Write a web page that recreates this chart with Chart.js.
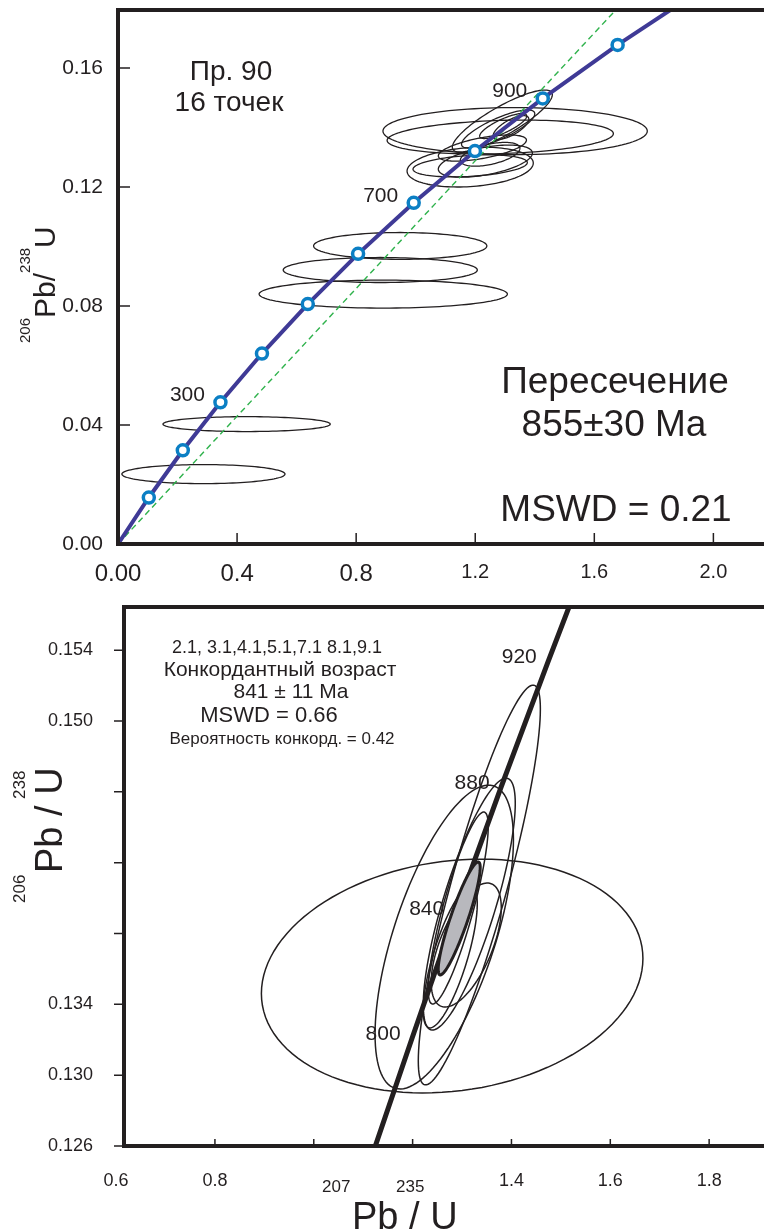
<!DOCTYPE html>
<html>
<head>
<meta charset="utf-8">
<script src="https://cdn.jsdelivr.net/npm/chart.js@4.4.1/dist/chart.umd.min.js"></script>
<style>
    body { margin: 0; background: #fff; }
    #wrap { position: relative; width: 764px; height: 1232px; overflow: hidden; }
    canvas { position: absolute; left: 0; }
    #topChart { top: 0; }
    #bottomChart { top: 600px; }
</style>
</head>
<body>
<div id="wrap">
    <canvas id="topChart" width="764" height="600"></canvas>
    <canvas id="bottomChart" width="764" height="632"></canvas>
</div>
<script>
const FONT = '"Liberation Sans", Arial, Helvetica, sans-serif';
const INK = '#231f20';

// ---------- upper diagram: discordia, 16 points ----------
const topXTicks = [0, 0.4, 0.8, 1.2, 1.6, 2.0];
const topXLabels = ['0.00', '0.4', '0.8', '1.2', '1.6', '2.0'];
const topYTicks = [0, 0.04, 0.08, 0.12, 0.16];
const topYLabels = ['0.00', '0.04', '0.08', '0.12', '0.16'];

// concordia marks, 100 Ma steps
const topMarkAges = [100, 200, 300, 400, 500, 600, 700, 800, 900, 1000];
const topMarkX = [0.1035, 0.2177, 0.3441, 0.4836, 0.6375, 0.8065, 0.9933, 1.1990, 1.4268, 1.6783];
const topMarkY = [0.01563, 0.03151, 0.04764, 0.06402, 0.08065, 0.09754, 0.11468, 0.13210, 0.14979, 0.16776];
const topCurveX = [0, 0.1035, 0.2177, 0.3441, 0.4836, 0.6375, 0.8065, 0.9933, 1.1990, 1.4268, 1.6783, 1.9546];
const topCurveY = [0, 0.01563, 0.03151, 0.04764, 0.06402, 0.08065, 0.09754, 0.11468, 0.13210, 0.14979, 0.16776, 0.18605];
const topLabelAges = [300, 700, 900];

// discordia chord through the origin
const chordX = [0, 1.70];
const chordY = [0, 0.1825];

// error ellipses: centre, half extents, correlation
const topEllX = [0.287, 0.432, 0.891, 0.881, 0.948, 1.334, 1.284, 1.183, 1.183, 1.234, 1.224, 1.291, 1.277, 1.294, 1.320, 1.250];
const topEllY = [0.0235, 0.0403, 0.0840, 0.0921, 0.1002, 0.1388, 0.1368, 0.1267, 0.1271, 0.1287, 0.1331, 0.1422, 0.1395, 0.1405, 0.1400, 0.1310];
const topEllW = [0.274, 0.281, 0.417, 0.326, 0.291, 0.444, 0.380, 0.212, 0.192, 0.158, 0.148, 0.168, 0.123, 0.079, 0.060, 0.100];
const topEllH = [0.0032, 0.0025, 0.0047, 0.0042, 0.0045, 0.0079, 0.0057, 0.0067, 0.0037, 0.0054, 0.0044, 0.0104, 0.0064, 0.0042, 0.0040, 0.0040];
const topEllR = [0, 0, 0, 0, 0, 0, 0.2, 0.2, 0.3, 0.5, 0.6, 0.85, 0.8, 0.8, 0.7, 0.5];

// ---------- lower diagram: concordant age ----------
const botXTicks = [0.6, 0.8, 1.0, 1.2, 1.4, 1.6, 1.8];
const botXLabels = ['0.6', '0.8', '', '', '1.4', '1.6', '1.8'];
const botYTicks = [0.126, 0.130, 0.134, 0.138, 0.142, 0.146, 0.150, 0.154];
const botYLabels = ['0.126', '0.130', '0.134', '', '', '', '0.150', '0.154'];

const botCurveX = [1.1138, 1.1990, 1.2871, 1.3790, 1.4745, 1.5238];
const botCurveY = [0.12512, 0.13210, 0.13918, 0.14627, 0.15339, 0.15697];
const botLabelAges = ['800', '840', '880', '920'];
const botAgeX = [1.1990, 1.2871, 1.3790, 1.4745];
const botAgeY = [0.13210, 0.13918, 0.14627, 0.15339];

const botEllX = [1.280, 1.264, 1.335, 1.3146, 1.2923, 1.3085, 1.2761];
const botEllY = [0.1356, 0.1378, 0.14074, 0.13966, 0.13944, 0.13735, 0.13667];
const botEllW = [0.386, 0.140, 0.1235, 0.0931, 0.0607, 0.0709, 0.0547];
const botEllH = [0.0066, 0.00858, 0.01129, 0.00711, 0.00542, 0.0035, 0.0040];
const botEllR = [0.15, 0.64, 0.88, 0.8, 0.85, 0.6, 0.75];

// weighted concordia ellipse (grey)
const concX = [1.2943];
const concY = [0.13885];
const concW = [0.0425];
const concH = [0.00319];
const concR = [0.9];

const pts = (xs, ys) => xs.map((v, i) => ({ x: v, y: ys[i] }));

function ellipses(id, hook, xs, ys, ws, hs, rs, style) {
    return {
        id: id,
        [hook](chart) {
            const { ctx, chartArea: a, scales: { x, y } } = chart;
            ctx.save();
            ctx.beginPath();
            ctx.rect(a.left, a.top, a.right - a.left, a.bottom - a.top);
            ctx.clip();
            for (let i = 0; i < xs.length; i++) {
                const q = Math.sqrt(1 - rs[i] * rs[i]);
                ctx.beginPath();
                for (let k = 0; k <= 120; k++) {
                    const t = k / 120 * Math.PI * 2;
                    const px = x.getPixelForValue(xs[i] + ws[i] * Math.cos(t));
                    const py = y.getPixelForValue(ys[i] + hs[i] * (rs[i] * Math.cos(t) + q * Math.sin(t)));
                    if (k === 0) ctx.moveTo(px, py); else ctx.lineTo(px, py);
                }
                ctx.closePath();
                if (style.fill) { ctx.fillStyle = style.fill; ctx.fill(); }
                ctx.lineWidth = style.width;
                ctx.strokeStyle = INK;
                ctx.stroke();
            }
            ctx.restore();
        }
    };
}

function frame(cfg) {
    return {
        id: 'frame',
        afterDraw(chart) {
            const { ctx, chartArea: a, scales: { x, y } } = chart;
            ctx.save();
            ctx.strokeStyle = INK;
            ctx.lineWidth = 1.5;
            ctx.beginPath();
            x.ticks.forEach(t => {
                if (t.value <= x.min || t.value > x.max) return;
                const px = x.getPixelForValue(t.value);
                ctx.moveTo(px, a.bottom);
                ctx.lineTo(px, a.bottom - cfg.xTick);
            });
            y.ticks.forEach(t => {
                if (t.value < y.min || t.value > y.max) return;
                const py = y.getPixelForValue(t.value);
                ctx.moveTo(a.left, py);
                ctx.lineTo(a.left + cfg.yTick, py);
            });
            ctx.stroke();
            ctx.lineWidth = 4;
            ctx.lineJoin = 'miter';
            ctx.beginPath();
            ctx.moveTo(chart.width + 5, a.top);
            ctx.lineTo(a.left, a.top);
            ctx.lineTo(a.left, a.bottom);
            ctx.lineTo(chart.width + 5, a.bottom);
            ctx.stroke();
            ctx.restore();
        }
    };
}

function notes(items) {
    return {
        id: 'notes',
        afterDraw(chart) {
            const ctx = chart.ctx;
            ctx.save();
            ctx.fillStyle = INK;
            ctx.textBaseline = 'alphabetic';
            ctx.textAlign = 'center';
            items.forEach(n => {
                ctx.font = n.size + 'px ' + FONT;
                ctx.fillText(n.t, n.x, n.y);
            });
            ctx.restore();
        }
    };
}

function ageLabels(texts, xs, ys, dx, dy, size) {
    return {
        id: 'ageLabels',
        afterDraw(chart) {
            const { ctx, scales: { x, y } } = chart;
            ctx.save();
            ctx.fillStyle = INK;
            ctx.textAlign = 'center';
            ctx.textBaseline = 'alphabetic';
            ctx.font = size + 'px ' + FONT;
            texts.forEach((t, i) => {
                ctx.fillText(t, x.getPixelForValue(xs[i]) + dx, y.getPixelForValue(ys[i]) + dy);
            });
            ctx.restore();
        }
    };
}

// isotope ratio title: big text plus raised mass numbers
function ratioTitle(cfg) {
    return {
        id: 'ratioTitle',
        afterDraw(chart) {
            const ctx = chart.ctx;
            ctx.save();
            ctx.fillStyle = INK;
            ctx.textBaseline = 'alphabetic';
            ctx.translate(cfg.x, cfg.y);
            if (cfg.vertical) ctx.rotate(-Math.PI / 2);
            let pos = 0;
            cfg.parts.forEach(p => {
                ctx.font = (p.sup ? cfg.small : cfg.big) + 'px ' + FONT;
                const w = ctx.measureText(p.t).width;
                const at = p.at !== undefined ? p.at : pos;
                ctx.textAlign = 'left';
                ctx.fillText(p.t, at, p.sup ? -cfg.raise : 0);
                if (p.at === undefined) pos += w;
            });
            ctx.restore();
        }
    };
}

function axisOpts(min, max, tickVals, tickLabels, size, pad, fit) {
    return {
        type: 'linear', min: min, max: max,
        grid: { display: false, drawTicks: false },
        border: { display: false },
        afterBuildTicks: s => { s.ticks = tickVals.map(v => ({ value: v })); },
        afterFit: fit,
        ticks: {
            autoSkip: false, maxRotation: 0, minRotation: 0, padding: pad, color: INK,
            callback: (v, i) => tickLabels[i],
            font: size
        }
    };
}

const topLabelIdx = topLabelAges.map(a => topMarkAges.indexOf(a));

new Chart(document.getElementById('topChart'), {
    type: 'scatter',
    data: {
        datasets: [{
            data: pts(topMarkX, topMarkY),
            showLine: false,
            pointRadius: 5.5,
            pointBorderWidth: 3.5,
            pointBorderColor: '#0b7fc4',
            pointBackgroundColor: '#ffffff'
        }, {
            data: pts(topCurveX, topCurveY),
            showLine: true,
            borderColor: '#3f3a96',
            borderWidth: 4,
            pointRadius: 0
        }, {
            data: pts(chordX, chordY),
            showLine: true,
            borderColor: '#2fb24c',
            borderWidth: 1.4,
            borderDash: [6, 4],
            pointRadius: 0
        }]
    },
    options: {
        responsive: false,
        animation: false,
        devicePixelRatio: 1,
        layout: { autoPadding: false, padding: { top: 10, left: 0, right: 0, bottom: 0 } },
        plugins: { legend: { display: false }, tooltip: { enabled: false } },
        scales: {
            x: axisOpts(0, 2.17, topXTicks, topXLabels,
                c => ({ family: FONT, size: (c.tick && c.tick.value < 1) ? 24 : 20 }), 16,
                s => { s.height = 56; s.paddingLeft = 0; s.paddingRight = 0; }),
            y: axisOpts(0, 0.1795, topYTicks, topYLabels,
                { family: FONT, size: 21 }, 15,
                s => { s.width = 118; s.paddingTop = 0; s.paddingBottom = 0; })
        }
    },
    plugins: [
        ellipses('topEll', 'beforeDatasetsDraw', topEllX, topEllY, topEllW, topEllH, topEllR, { width: 1.3 }),
        frame({ xTick: 11, yTick: 12 }),
        ageLabels(topLabelAges.map(String), topLabelIdx.map(i => topMarkX[i]), topLabelIdx.map(i => topMarkY[i]), -33, -1, 21),
        notes([
            { t: 'Пр. 90', x: 231, y: 80, size: 28 },
            { t: '16 точек', x: 229, y: 111, size: 28 },
            { t: 'Пересечение', x: 615, y: 393, size: 37 },
            { t: '855±30 Ma', x: 614, y: 436, size: 37 },
            { t: 'MSWD = 0.21', x: 616, y: 521, size: 37 }
        ]),
        ratioTitle({
            x: 55, y: 343, vertical: true, big: 30, small: 15, raise: 25,
            parts: [{ t: '206', sup: true }, { t: 'Pb/' }, { t: '238', sup: true }, { t: 'U' }]
        })
    ]
});

new Chart(document.getElementById('bottomChart'), {
    type: 'scatter',
    data: {
        datasets: [{
            data: pts(botCurveX, botCurveY),
            showLine: true,
            borderColor: INK,
            borderWidth: 5,
            pointRadius: 0
        }]
    },
    options: {
        responsive: false,
        animation: false,
        devicePixelRatio: 1,
        layout: { autoPadding: false, padding: { top: 7, left: 0, right: 0, bottom: 0 } },
        plugins: { legend: { display: false }, tooltip: { enabled: false } },
        scales: {
            x: axisOpts(0.616, 1.911, botXTicks, botXLabels,
                { family: FONT, size: 18 }, 24,
                s => { s.height = 86; s.paddingLeft = 0; s.paddingRight = 0; }),
            y: axisOpts(0.126, 0.15644, botYTicks, botYLabels,
                { family: FONT, size: 18 }, 31,
                s => { s.width = 124; s.paddingTop = 0; s.paddingBottom = 0; })
        }
    },
    plugins: [
        ellipses('botEll', 'beforeDatasetsDraw', botEllX, botEllY, botEllW, botEllH, botEllR, { width: 1.5 }),
        ellipses('concEll', 'afterDatasetsDraw', concX, concY, concW, concH, concR, { width: 3, fill: '#b8b8bd' }),
        frame({ xTick: 7, yTick: -10 }),
        ageLabels(botLabelAges, botAgeX, botAgeY, -29, 2, 21),
        notes([
            { t: '2.1, 3.1,4.1,5.1,7.1 8.1,9.1', x: 277, y: 53, size: 18 },
            { t: 'Конкордантный возраст', x: 280, y: 76, size: 21 },
            { t: '841 ± 11 Ma', x: 291, y: 98, size: 21 },
            { t: 'MSWD = 0.66', x: 269, y: 122, size: 22 },
            { t: 'Вероятность конкорд. = 0.42', x: 282, y: 144, size: 17 }
        ]),
        ratioTitle({
            x: 352, y: 629, vertical: false, big: 38, small: 17, raise: 37,
            parts: [{ t: '207', sup: true, at: -30 }, { t: 'Pb / U' }, { t: '235', sup: true, at: 44 }]
        }),
        ratioTitle({
            x: 62, y: 273, vertical: true, big: 38, small: 17, raise: 37,
            parts: [{ t: '206', sup: true, at: -30 }, { t: 'Pb / U' }, { t: '238', sup: true, at: 74 }]
        })
    ]
});
</script>
</body>
</html>
